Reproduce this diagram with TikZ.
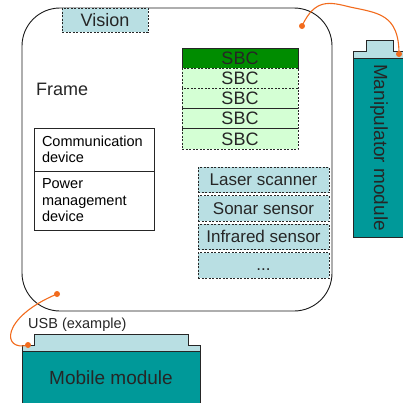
\documentclass[tikz,border=0pt]{standalone}
\usepackage{fontspec}
\setmainfont{Liberation Sans}
\usetikzlibrary{positioning}
\definecolor{capblue}{HTML}{B9DFE3}
\definecolor{modteal}{HTML}{009999}
\definecolor{sbcdark}{HTML}{008C00}
\definecolor{sbclight}{HTML}{D4FFD4}
\definecolor{cableorange}{HTML}{F26B1D}
\tikzset{
	big/.style={font=\fontsize{18}{20}\selectfont},
	small/.style={font=\fontsize{14.5}{16.5}\selectfont},
	dashbox/.style={draw=black!85, line width=.8pt, dash pattern=on 2pt off 1.5pt, inner sep=0pt, outer sep=0pt, text=black!85, big},
	sbcbox/.style={dashbox, fill=sbclight, minimum width=116pt, minimum height=20.2pt},
	sensorbox/.style={dashbox, fill=capblue, minimum width=131pt, minimum height=25.5pt, font=\fontsize{17}{19}\selectfont},
	devbox/.style={draw=black!85, line width=1pt, inner xsep=8pt, inner ysep=0pt, outer sep=0pt, text width=104pt, align=left, small},
	module/.style={draw=black!85, line width=1pt, fill=modteal, inner sep=0pt, outer sep=0pt, text=black!85, font=\fontsize{19}{21}\selectfont},
	capshape/.style={draw=black!85, line width=1pt, fill=capblue},
	plug/.style={circle, fill=cableorange, inner sep=0pt, minimum size=6pt},
	cable/.style={draw=cableorange, line width=1.1pt}
}
\begin{document}
\begin{tikzpicture}[x=1pt, y=-1pt]
	\useasboundingbox (0,0) rectangle (403,402);
	\node[draw=black!90, line width=.9pt, rounded corners=38pt, minimum width=310pt, minimum height=303pt, inner sep=0pt, outer sep=0pt, anchor=north west] (frame) at (22,8) {};
	\node[big, text=black!85, anchor=base west, inner sep=0pt] (framelabel) at (36,95) {Frame};
	\node[dashbox, fill=capblue, minimum width=86pt, minimum height=24pt, anchor=north west] (vision) at (62,8) {Vision};

	\node[devbox, minimum height=43pt, anchor=north west] (comm) at (34,128) {Communication\\device};
	\node[devbox, minimum height=59pt, below=0pt of comm] (power) {Power\\management\\device};

	\node[sbcbox, fill=sbcdark, draw=black!85, solid, anchor=north west] (sbc1) at (182,48) {SBC};
	\node[sbcbox, below=0pt of sbc1] (sbc2) {SBC};
	\node[sbcbox, below=0pt of sbc2] (sbc3) {SBC};
	\node[sbcbox, below=0pt of sbc3] (sbc4) {SBC};
	\node[sbcbox, below=0pt of sbc4] (sbc5) {SBC};

	\node[sensorbox, anchor=north west] (laser) at (198,167) {Laser scanner};
	\node[sensorbox, below=3pt of laser] (sonar) {Sonar sensor};
	\node[sensorbox, below=3pt of sonar] (infrared) {Infrared sensor};
	\node[sensorbox, below=3pt of infrared] (more) {\raisebox{-5pt}[0pt][0pt]{...}};

	\draw[capshape] (353,58) -- (353,51) -- (366,51) -- (366,40) -- (393,40) -- (393,51) -- (410,51) -- (410,58);
	\node[module, rotate=-90, minimum width=179pt, minimum height=52pt] (manip) at (379,147.5) {Manipulator module};

	\draw[capshape] (22,351) -- (22,345) -- (34,345) -- (34,334) -- (188,334) -- (188,345) -- (200,345) -- (200,351);
	\node[module, minimum width=178pt, minimum height=54pt, anchor=north west] (mobile) at (22,351) {Mobile module};
	\node[small, text=black!85, anchor=base west, inner sep=0pt] (usb) at (28,328) {USB (example)};

	\node[plug] (plugA) at (302,26) {};
	\node[plug] (plugB) at (399,54) {};
	\node[plug] (plugC) at (57,294) {};
	\node[plug] (plugD) at (28,345) {};
	\path[cable] (plugA.center) .. controls (315,-2) and (330,2) .. (350,7) .. controls (378,13) and (399,14) .. (plugB.center);
	\path[cable] (plugC.center) .. controls (0,318) and (2,352) .. (plugD.center);
\end{tikzpicture}
\end{document}
